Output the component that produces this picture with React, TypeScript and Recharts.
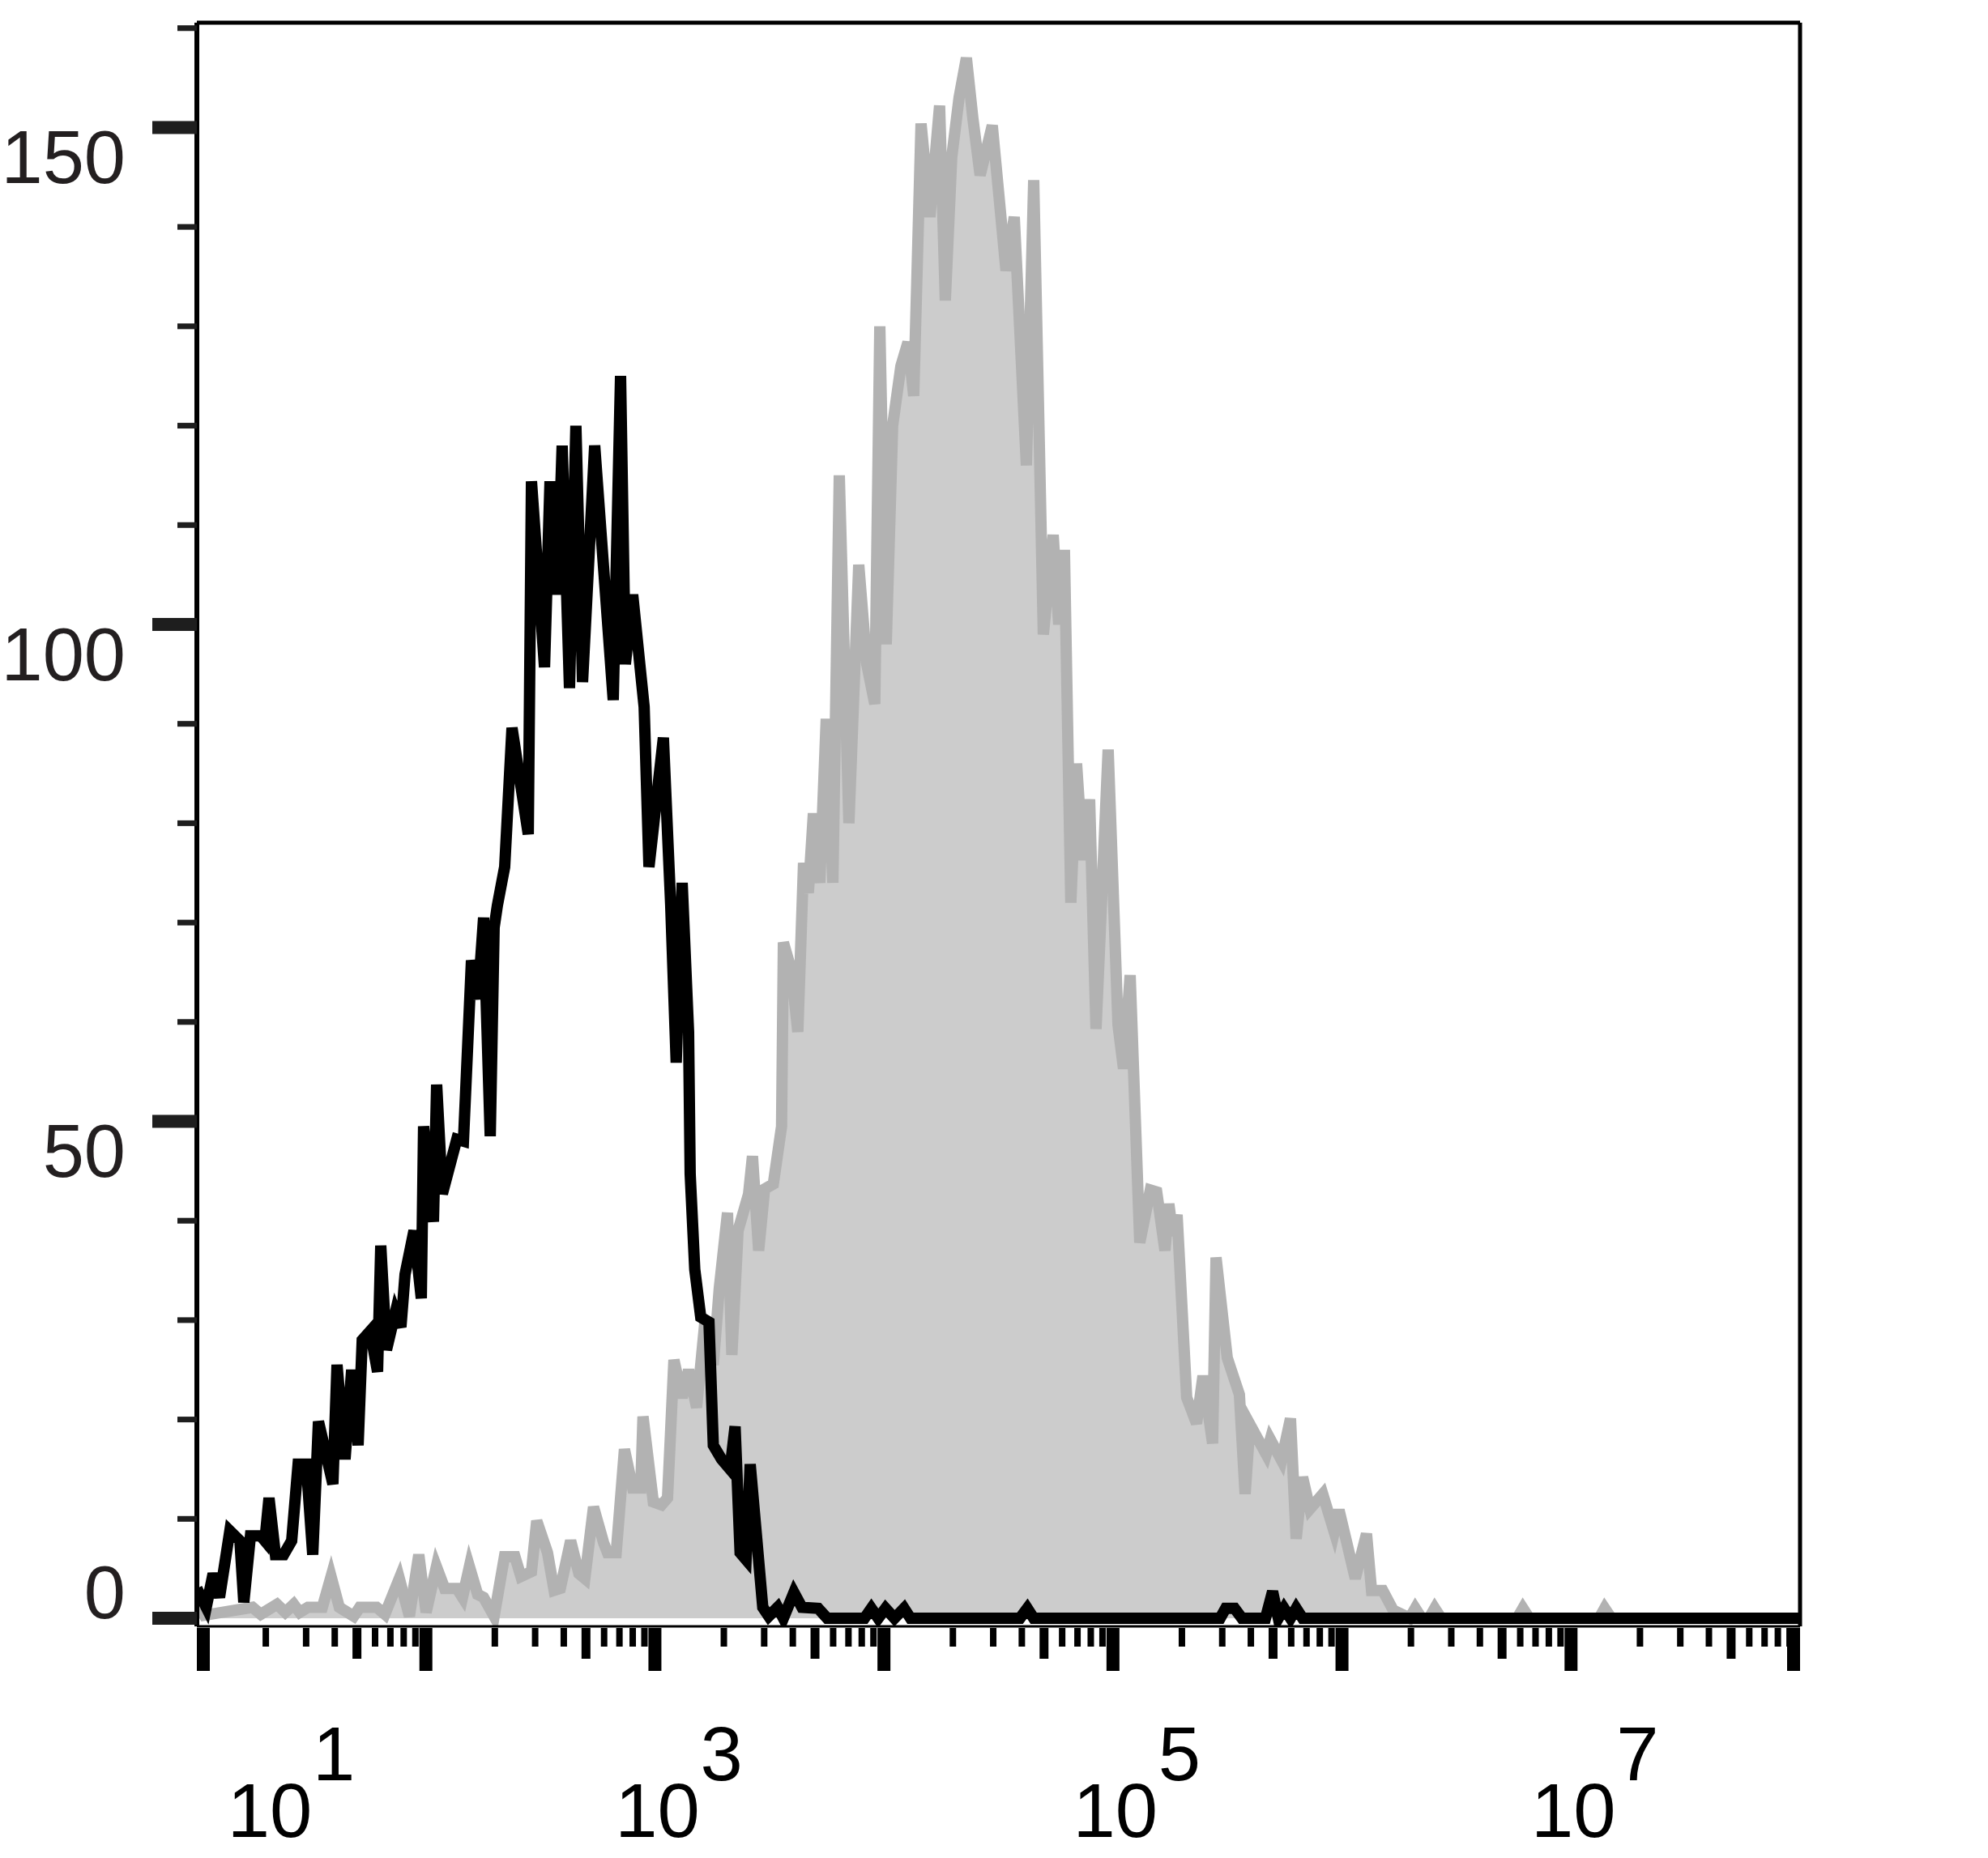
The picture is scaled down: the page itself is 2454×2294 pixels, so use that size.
import { Area, ComposedChart, Line, ReferenceLine, XAxis, YAxis } from "recharts";

// Isotype control (black outline): log10 intensity of each histogram vertex and its count
const isotypeLog = [
  1.0, 1.041, 1.071, 1.099, 1.144, 1.188, 1.205, 1.234, 1.279, 1.297, 1.315, 1.343, 1.379, 1.414,
  1.442, 1.478, 1.506, 1.531, 1.594, 1.612, 1.647, 1.676, 1.704, 1.722, 1.757, 1.789, 1.803, 1.828,
  1.867, 1.891, 1.909, 1.948, 1.98, 1.99, 2.033, 2.047, 2.072, 2.135, 2.164, 2.199, 2.227, 2.252,
  2.281, 2.298, 2.312, 2.344, 2.376, 2.447, 2.461, 2.518, 2.542, 2.574, 2.595, 2.627, 2.655, 2.684,
  2.737, 2.818, 2.85, 2.871, 2.903, 2.953, 2.974, 3.037, 3.069, 3.093, 3.119, 3.147, 3.154, 3.174,
  3.2, 3.236, 3.255, 3.291, 3.328, 3.35, 3.372, 3.398, 3.416, 3.471, 3.497, 3.536, 3.561, 3.607,
  3.642, 3.713, 3.752, 3.915, 3.945, 3.975, 4.007, 4.046, 4.088, 4.116, 4.594, 4.626, 4.654, 5.468,
  5.492, 5.531, 5.563, 5.666, 5.697, 5.722, 5.747, 5.775, 5.8, 5.828, 8.0,
];
const isotypeCount = [
  3.0, 1.1, 4.5, 2.1, 8.8, 7.8, 1.6, 8.3, 8.3, 7.8, 12.1, 6.4, 6.4, 7.8, 15.5, 15.5, 6.4, 19.8,
  13.5, 25.5, 16.0, 25.0, 17.4, 28.0, 28.9, 24.8, 37.5, 27.0, 30.8, 29.3, 34.6, 39.0, 32.2, 49.5,
  39.9, 53.7, 42.7, 48.2, 48.0, 66.2, 62.3, 70.5, 48.5, 69.5, 71.7, 75.6, 89.6, 78.9, 114.4, 95.7,
  114.4, 103.0, 118.0, 93.6, 120.0, 94.2, 118.0, 92.4, 125.0, 96.0, 103.0, 91.7, 75.6, 88.6, 71.7,
  55.9, 74.0, 59.0, 44.7, 35.1, 30.3, 29.8, 17.4, 16.0, 15.0, 19.3, 6.6, 5.9, 15.5, 1.1, 0.2, 1.1,
  0, 2.6, 1.1, 1, 0, 0, 1, 0, 1, 0, 1, 0, 0, 1, 0, 0, 1, 1, 0, 0, 2.7, 0, 1, 0, 1, 0, 0,
];

// Stained sample (filled grey)
const stainedLog = [
  1.0, 1.032, 1.243, 1.279, 1.35, 1.386, 1.423, 1.449, 1.485, 1.548, 1.586, 1.622, 1.685, 1.711,
  1.785, 1.821, 1.884, 1.928, 1.969, 2.001, 2.046, 2.082, 2.135, 2.16, 2.19, 2.226, 2.252, 2.298,
  2.343, 2.389, 2.415, 2.461, 2.484, 2.531, 2.56, 2.587, 2.632, 2.668, 2.694, 2.732, 2.776, 2.793,
  2.831, 2.867, 2.903, 2.938, 2.948, 2.993, 3.029, 3.055, 3.083, 3.119, 3.147, 3.182, 3.218, 3.255,
  3.281, 3.317, 3.336, 3.363, 3.409, 3.426, 3.453, 3.479, 3.517, 3.553, 3.561, 3.596, 3.624, 3.649,
  3.67, 3.692, 3.72, 3.748, 3.777, 3.805, 3.847, 3.89, 3.925, 3.96, 3.982, 4.01, 4.038, 4.074,
  4.105, 4.13, 4.162, 4.201, 4.243, 4.268, 4.296, 4.328, 4.36, 4.388, 4.42, 4.473, 4.533, 4.569,
  4.622, 4.654, 4.696, 4.739, 4.763, 4.788, 4.816, 4.841, 4.869, 4.898, 4.926, 4.979, 5.022, 5.046,
  5.075, 5.117, 5.163, 5.191, 5.227, 5.244, 5.262, 5.28, 5.322, 5.365, 5.393, 5.435, 5.45, 5.499,
  5.552, 5.577, 5.598, 5.669, 5.687, 5.736, 5.775, 5.8, 5.828, 5.86, 5.916, 5.966, 5.987, 6.058,
  6.107, 6.129, 6.178, 6.224, 6.27, 6.295, 6.32, 6.348, 6.38, 6.405, 6.433, 6.765, 6.79, 6.818,
  7.123, 7.147, 7.176, 8.0,
];
const stainedCount = [
  1.5, 0.3, 1.1, 0.4, 1.4, 0.6, 1.4, 0.6, 1.1, 1.1, 4.2, 1.1, 0.2, 1.1, 1.1, 0.4, 4.0, 0.2, 6.4,
  0.6, 5.2, 3.0, 3.0, 2.1, 5.2, 2.4, 2.1, 0.2, 6.2, 6.2, 4.2, 4.7, 9.8, 6.6, 2.8, 3.0, 7.8, 4.5,
  4.0, 11.2, 7.6, 6.6, 6.6, 17.0, 13.1, 13.1, 20.3, 11.7, 11.4, 12.1, 26.0, 22.2, 25.0, 21.2, 29.8,
  25.5, 33.2, 40.8, 26.5, 39.0, 42.7, 46.5, 37.0, 43.2, 43.7, 49.5, 68.0, 65.2, 59.0, 76.0, 73.0,
  81.0, 74.0, 90.5, 74.0, 115.0, 80.0, 106.0, 96.0, 92.0, 130.0, 98.0, 120.0, 126.0, 128.4, 123.0,
  150.4, 141.0, 152.2, 132.6, 147.0, 153.0, 157.0, 151.0, 145.2, 150.2, 135.6, 141.0, 116.0, 144.7,
  99.0, 109.0, 100.0, 107.5, 72.0, 86.0, 76.3, 82.4, 59.3, 87.4, 59.7, 55.3, 64.7, 37.8, 43.1, 42.9,
  37.0, 41.7, 38.5, 40.6, 22.2, 19.6, 24.4, 17.6, 36.3, 26.2, 22.5, 12.5, 19.5, 16.5, 18.0, 15.9,
  20.1, 8.0, 14.2, 11.0, 12.5, 8.7, 10.9, 4.0, 8.5, 2.8, 2.8, 0.8, 0.3, 0, 1, 0, 0, 1, 0, 0, 1, 0,
  0, 1, 0, 0,
];

const yTicks = [0, 10, 20, 30, 40, 50, 60, 70, 80, 90, 100, 110, 120, 130, 140, 150, 160];
const yLabels = [0, 50, 100, 150];
const decades = [1, 2, 3, 4, 5, 6, 7];
const minorSteps = [2, 3, 4, 5, 6, 7, 8, 9];
const decadeLabels = [1, 3, 5, 7];

const X_MIN = 1;
const X_MAX = 8;
const Y_MIN = -0.815;
const Y_MAX = 160.55;

const FONT = "'Liberation Sans', Arial, Helvetica, sans-serif";

const xTicks = decades
  .flatMap((d) => [d, ...minorSteps.map((m) => d + Math.log10(m))])
  .concat(X_MAX);

const toRows = (logs: number[], counts: number[]) =>
  logs.map((logI, i) => ({ logI, count: counts[i] }));

const isotypeRows = toRows(isotypeLog, isotypeCount);
const stainedRows = toRows(stainedLog, stainedCount);

function YTick({ x, y, payload }: any) {
  const v = payload.value as number;
  const major = yLabels.includes(v);
  const len = major ? 55 : 24;
  const th = major ? 16 : 7;
  return (
    <g>
      <rect x={x - len} y={y - th / 2} width={len} height={th} fill="#1e1e1e" />
      {major && (
        <text
          x={x - 88}
          y={v === 0 ? y : y + 69}
          textAnchor="end"
          fontSize={92}
          fontFamily={FONT}
          fill="#231f20"
        >
          {v}
        </text>
      )}
    </g>
  );
}

function XTick({ x, y, payload }: any) {
  const v = payload.value as number;
  const decade = Math.round(v);
  const isDecade = Math.abs(v - decade) < 1e-6;
  const mult = isDecade ? 1 : Math.round(Math.pow(10, v - Math.floor(v)));
  const w = isDecade ? 16 : mult === 5 ? 11 : 8;
  const len = isDecade ? 53 : mult === 5 ? 38 : 23;
  let left = x - w / 2;
  if (v <= X_MIN + 1e-6) left = x;
  else if (v >= X_MAX - 1e-6) left = x - w;
  const showLabel = isDecade && decadeLabels.includes(decade);
  const cx = x + (decade === 1 ? 90 : 3);
  return (
    <g>
      <rect x={left} y={y + 2} width={w} height={len} fill="#000" />
      {showLabel && (
        <>
          <text x={cx} y={y + 260} textAnchor="middle" fontSize={94} fontFamily={FONT} fill="#000">
            10
          </text>
          <text x={cx + 53} y={y + 190} textAnchor="start" fontSize={94} fontFamily={FONT} fill="#000">
            {decade}
          </text>
        </>
      )}
    </g>
  );
}

export default function App() {
  // pull the chart over the body margin so its pixels line up with the page
  return (
    <div style={{ width: 2454, height: 2294, margin: "-8px 0 0 -8px", background: "#fff" }}>
      <ComposedChart width={2454} height={2294} margin={{ top: 28, right: 232, bottom: 0, left: 0 }}>
        <XAxis
          type="number"
          dataKey="logI"
          domain={[X_MIN, X_MAX]}
          allowDataOverflow
          ticks={xTicks}
          interval={0}
          tick={(p: any) => <XTick {...p} />}
          tickLine={false}
          tickSize={0}
          tickMargin={0}
          height={286}
          axisLine={{ stroke: "#000", strokeWidth: 3 }}
        />
        <YAxis
          type="number"
          domain={[Y_MIN, Y_MAX]}
          allowDataOverflow
          ticks={yTicks}
          interval={0}
          tick={(p: any) => <YTick {...p} />}
          tickLine={false}
          tickSize={0}
          tickMargin={0}
          width={243}
          axisLine={{ stroke: "#000", strokeWidth: 6 }}
        />
        <Area
          data={stainedRows}
          dataKey="count"
          type="linear"
          stroke="#b2b2b2"
          strokeWidth={14}
          fill="#cccccc"
          fillOpacity={1}
          dot={false}
          activeDot={false}
          isAnimationActive={false}
        />
        <Line
          data={isotypeRows}
          dataKey="count"
          type="linear"
          stroke="#000"
          strokeWidth={14}
          dot={false}
          activeDot={false}
          isAnimationActive={false}
        />
        <ReferenceLine y={Y_MAX} stroke="#000" strokeWidth={5} ifOverflow="visible" />
        <ReferenceLine x={X_MAX} stroke="#000" strokeWidth={5} ifOverflow="visible" />
      </ComposedChart>
    </div>
  );
}
